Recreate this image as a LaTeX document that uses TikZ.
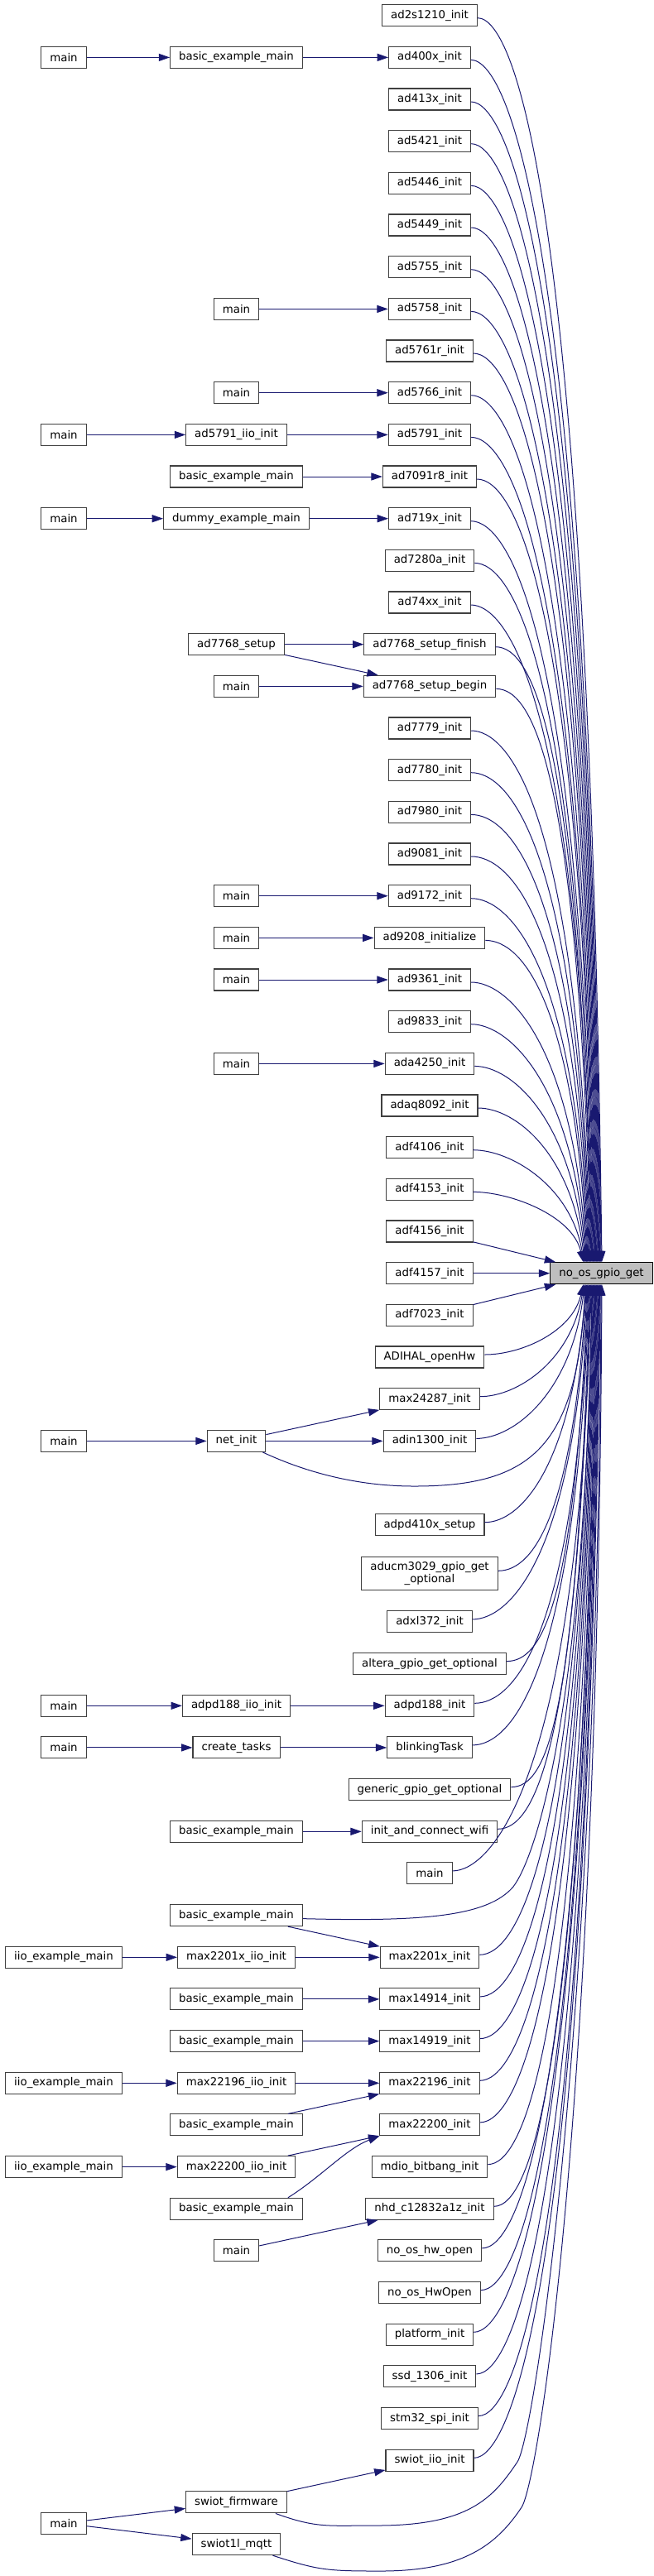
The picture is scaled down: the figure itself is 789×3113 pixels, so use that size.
\documentclass[tikz,border=0pt]{standalone}
\usepackage{fontspec}
\setmainfont{DejaVu Sans}
\usetikzlibrary{arrows.meta,calc}
\definecolor{edgeblue}{HTML}{191970}
\definecolor{boxborder}{HTML}{404040}
\definecolor{hilite}{HTML}{BFBFBF}
\tikzset{
 box/.style={draw=boxborder, line width=0.8pt, fill=white, font=\fontsize{10pt}{11.25pt}\selectfont, minimum height=19.5pt, inner xsep=7.9pt, inner ysep=2pt},
 edge/.style={draw=edgeblue, line width=0.75pt, -{Triangle[length=10pt,width=6.8pt]}},
}
\newcommand\upE[3]{%
  \pgfmathsetmacro\myDy{1525-#2}%
  \pgfmathsetmacro\myD{(0.85-0.25*max(0,1-\myDy/500))*\myDy}%
  \pgfmathsetmacro\myC{min(0.15*\myDy,16)}%
  \pgfmathsetmacro\myO{0.5-0.8*#3}%
  \draw[edge] ($(#1.east)+(0,3)$) .. controls +(45,0) and +(-\myC,-\myD) .. ($(g.north)+(\myO,0)$);}
\newcommand\downE[3]{%
  \pgfmathsetmacro\myDy{#2-1552}%
  \pgfmathsetmacro\myD{(0.85-0.25*max(0,1-\myDy/500))*\myDy}%
  \pgfmathsetmacro\myC{min(0.15*\myDy,16)}%
  \pgfmathsetmacro\myO{0.5-0.8*#3}%
  \draw[edge] ($(#1.east)+(0,-3)$) .. controls +(45,0) and +(-\myC,\myD) .. ($(g.south)+(\myO,0)$);}
\begin{document}
\begin{tikzpicture}[x=0.75pt,y=-0.75pt]
\useasboundingbox (0,0) rectangle (789,3113);
% target
\node[box, fill=hilite, draw=black] (g) at (726.5,1538.7) {no\_os\_gpio\_get};
% column 3
\node[box] (r0) at (519,18.7) {ad2s1210\_init};
\node[box] (r1) at (519,69.4) {ad400x\_init};
\node[box] (r2) at (519,120.0) {ad413x\_init};
\node[box] (r3) at (519,170.7) {ad5421\_init};
\node[box] (r4) at (519,221.4) {ad5446\_init};
\node[box] (r5) at (519,272.0) {ad5449\_init};
\node[box] (r6) at (519,322.7) {ad5755\_init};
\node[box] (r7) at (519,373.4) {ad5758\_init};
\node[box] (r8) at (519,424.0) {ad5761r\_init};
\node[box] (r9) at (519,474.7) {ad5766\_init};
\node[box] (r10) at (519,525.4) {ad5791\_init};
\node[box] (r11) at (519,576.0) {ad7091r8\_init};
\node[box] (r12) at (519,626.7) {ad719x\_init};
\node[box] (r13) at (519,677.4) {ad7280a\_init};
\node[box] (r14) at (519,728.0) {ad74xx\_init};
\node[box] (r15) at (519,778.7) {ad7768\_setup\_finish};
\node[box] (r16) at (519,829.4) {ad7768\_setup\_begin};
\node[box] (r17) at (519,880.0) {ad7779\_init};
\node[box] (r18) at (519,930.7) {ad7780\_init};
\node[box] (r19) at (519,981.4) {ad7980\_init};
\node[box] (r20) at (519,1032.0) {ad9081\_init};
\node[box] (r21) at (519,1082.7) {ad9172\_init};
\node[box] (r22) at (519,1133.4) {ad9208\_initialize};
\node[box] (r23) at (519,1184.0) {ad9361\_init};
\node[box] (r24) at (519,1234.7) {ad9833\_init};
\node[box] (r25) at (519,1285.4) {ada4250\_init};
\node[box] (r26) at (519,1336.0) {adaq8092\_init};
\node[box] (r27) at (519,1386.7) {adf4106\_init};
\node[box] (r28) at (519,1437.4) {adf4153\_init};
\node[box] (r29) at (519,1488.0) {adf4156\_init};
\node[box] (r30) at (519,1538.7) {adf4157\_init};
\node[box] (r31) at (519,1589.4) {adf7023\_init};
\node[box] (r32) at (519,1640.0) {ADIHAL\_openHw};
\node[box] (r33) at (519,1690.7) {max24287\_init};
\node[box] (r34) at (519,1741.4) {adin1300\_init};
\node[box] (r36) at (519,1842.7) {adpd410x\_setup};
\node[box, align=center, minimum height=30pt] (r37) at (519,1901.3) {aducm3029\_gpio\_get\\\_optional};
\node[box] (r38) at (519,1959.9) {adxl372\_init};
\node[box] (r39) at (519,2010.6) {altera\_gpio\_get\_optional};
\node[box] (r40) at (519,2061.3) {adpd188\_init};
\node[box] (r41) at (519,2111.9) {blinkingTask};
\node[box] (r42) at (519,2162.6) {generic\_gpio\_get\_optional};
\node[box] (r43) at (519,2213.3) {init\_and\_connect\_wifi};
\node[box] (r44) at (519,2263.9) {main};
\node[box] (r46) at (519,2365.3) {max2201x\_init};
\node[box] (r47) at (519,2415.9) {max14914\_init};
\node[box] (r48) at (519,2466.6) {max14919\_init};
\node[box] (r49) at (519,2517.3) {max22196\_init};
\node[box] (r50) at (519,2567.9) {max22200\_init};
\node[box] (r51) at (519,2618.6) {mdio\_bitbang\_init};
\node[box] (r52) at (519,2669.3) {nhd\_c12832a1z\_init};
\node[box] (r53) at (519,2719.9) {no\_os\_hw\_open};
\node[box] (r54) at (519,2770.6) {no\_os\_HwOpen};
\node[box] (r55) at (519,2821.3) {platform\_init};
\node[box] (r56) at (519,2871.9) {ssd\_1306\_init};
\node[box] (r57) at (519,2922.6) {stm32\_spi\_init};
\node[box] (r58) at (519,2973.3) {swiot\_iio\_init};
% column 2
\node[box] (b1) at (285.5,69.4) {basic\_example\_main};
\node[box] (m7) at (285.5,373.4) {main};
\node[box] (m9) at (285.5,474.7) {main};
\node[box] (b10) at (285.5,525.4) {ad5791\_iio\_init};
\node[box] (b11) at (285.5,576.0) {basic\_example\_main};
\node[box] (b12) at (285.5,626.7) {dummy\_example\_main};
\node[box] (b15) at (285.5,778.7) {ad7768\_setup};
\node[box] (m16) at (285.5,829.4) {main};
\node[box] (m21) at (285.5,1082.7) {main};
\node[box] (m22) at (285.5,1133.4) {main};
\node[box] (m23) at (285.5,1184.0) {main};
\node[box] (m25) at (285.5,1285.4) {main};
\node[box] (b34) at (285.5,1741.4) {net\_init};
\node[box] (b40) at (285.5,2061.3) {adpd188\_iio\_init};
\node[box] (b41) at (285.5,2111.9) {create\_tasks};
\node[box] (b43) at (285.5,2213.3) {basic\_example\_main};
\node[box] (b45) at (285.5,2314.6) {basic\_example\_main};
\node[box] (b46) at (285.5,2365.3) {max2201x\_iio\_init};
\node[box] (b47) at (285.5,2415.9) {basic\_example\_main};
\node[box] (b48) at (285.5,2466.6) {basic\_example\_main};
\node[box] (b49) at (285.5,2517.3) {max22196\_iio\_init};
\node[box] (b50) at (285.5,2567.9) {basic\_example\_main};
\node[box] (b51) at (285.5,2618.6) {max22200\_iio\_init};
\node[box] (b52) at (285.5,2669.3) {basic\_example\_main};
\node[box] (m53) at (285.5,2719.9) {main};
\node[box] (b59) at (285.5,3023.9) {swiot\_firmware};
\node[box] (b60) at (285.5,3074.6) {swiot1l\_mqtt};
% column 1
\node[box] (c1) at (77,69.4) {main};
\node[box] (c10) at (77,525.4) {main};
\node[box] (c12) at (77,626.7) {main};
\node[box] (c34) at (77,1741.4) {main};
\node[box] (c40) at (77,2061.3) {main};
\node[box] (c41) at (77,2111.9) {main};
\node[box] (c46) at (77,2365.3) {iio\_example\_main};
\node[box] (c49) at (77,2517.3) {iio\_example\_main};
\node[box] (c51) at (77,2618.6) {iio\_example\_main};
\node[box] (c59) at (77,3049.3) {main};
% left edges
\draw[edge] (c1) -- (b1);
\draw[edge] (b1) -- (r1);
\draw[edge] (m7) -- (r7);
\draw[edge] (m9) -- (r9);
\draw[edge] (c10) -- (b10);
\draw[edge] (b10) -- (r10);
\draw[edge] (b11) -- (r11);
\draw[edge] (c12) -- (b12);
\draw[edge] (b12) -- (r12);
\draw[edge] (b15) -- (r15);
\draw[edge] (b15) -- (r16);
\draw[edge] (m16) -- (r16);
\draw[edge] (m21) -- (r21);
\draw[edge] (m22) -- (r22);
\draw[edge] (m23) -- (r23);
\draw[edge] (m25) -- (r25);
\draw[edge] (c34) -- (b34);
\draw[edge] (b34) -- (r33);
\draw[edge] (b34) -- (r34);
\draw[edge] (c40) -- (b40);
\draw[edge] (b40) -- (r40);
\draw[edge] (c41) -- (b41);
\draw[edge] (b41) -- (r41);
\draw[edge] (b43) -- (r43);
\draw[edge] (b45) -- (r46);
\draw[edge] (c46) -- (b46);
\draw[edge] (b46) -- (r46);
\draw[edge] (b47) -- (r47);
\draw[edge] (b48) -- (r48);
\draw[edge] (c49) -- (b49);
\draw[edge] (b49) -- (r49);
\draw[edge] (b50) -- (r49);
\draw[edge] (c51) -- (b51);
\draw[edge] (b51) -- (r50);
\draw[edge] ($(b52.north east)+(-18,0)$) .. controls +(40,-25) and +(-40,15) .. (r50.south west);
\draw[edge] (m53) -- (r52);
\draw[edge] (c59) -- (b59);
\draw[edge] (c59) -- (b60);
\draw[edge] (b59) -- (r58);
% edges into no_os_gpio_get from above
\upE{r0}{18.7}{0}
\upE{r1}{69.4}{1}
\upE{r2}{120.0}{2}
\upE{r3}{170.7}{3}
\upE{r4}{221.4}{4}
\upE{r5}{272.0}{5}
\upE{r6}{322.7}{6}
\upE{r7}{373.4}{7}
\upE{r8}{424.0}{8}
\upE{r9}{474.7}{9}
\upE{r10}{525.4}{10}
\upE{r11}{576.0}{11}
\upE{r12}{626.7}{12}
\upE{r13}{677.4}{13}
\upE{r14}{728.0}{14}
\upE{r15}{778.7}{15}
\upE{r16}{829.4}{16}
\upE{r17}{880.0}{17}
\upE{r18}{930.7}{18}
\upE{r19}{981.4}{19}
\upE{r20}{1032.0}{20}
\upE{r21}{1082.7}{21}
\upE{r22}{1133.4}{22}
\upE{r23}{1184.0}{23}
\upE{r24}{1234.7}{24}
\upE{r25}{1285.4}{25}
\upE{r26}{1336.0}{26}
\upE{r27}{1386.7}{27}
\upE{r28}{1437.4}{28}
\draw[edge] (r29) -- (g);
\draw[edge] (r30) -- (g);
\draw[edge] (r31) -- (g);
% edges into no_os_gpio_get from below
\downE{r32}{1640.0}{28}
\downE{r33}{1690.7}{27}
\downE{r34}{1741.4}{26}
\draw[edge] ($(b34.south east)+(-4,0)$) .. controls +(60,28) and +(-60,0) .. (500,1796) .. controls +(140,0) and +(-10,198) .. ($(g.south)+(-19.5,0)$);
\downE{r36}{1842.7}{24}
\downE{r37}{1901.3}{23}
\downE{r38}{1959.9}{22}
\downE{r39}{2010.6}{21}
\downE{r40}{2061.3}{20}
\downE{r41}{2111.9}{19}
\downE{r42}{2162.6}{18}
\downE{r43}{2213.3}{17}
\downE{r44}{2263.9}{16}
\draw[edge] ($(b45.east)+(0,4)$) .. controls +(150,4) and +(-30,35) .. (620,2280) .. controls +(30,-40) and +(-8,500) .. ($(g.south)+(-11.5,0)$);
\downE{r46}{2365.3}{14}
\downE{r47}{2415.9}{13}
\downE{r48}{2466.6}{12}
\downE{r49}{2517.3}{11}
\downE{r50}{2567.9}{10}
\downE{r51}{2618.6}{9}
\downE{r52}{2669.3}{8}
\downE{r53}{2719.9}{7}
\downE{r54}{2770.6}{6}
\downE{r55}{2821.3}{5}
\downE{r56}{2871.9}{4}
\downE{r57}{2922.6}{3}
\downE{r58}{2973.3}{2}
\draw[edge] ($(b59.south east)+(-14,0)$) .. controls +(50,18) and +(-60,0) .. (455,3052) .. controls +(110,0) and +(-30,45) .. (625,2975) .. controls +(20,-30) and +(-5,900) .. ($(g.south)+(-0.3,0)$);
\draw[edge] ($(b60.south east)+(-10,0)$) .. controls +(55,18) and +(-65,0) .. (460,3107) .. controls +(100,0) and +(-30,45) .. (630,3030) .. controls +(20,-30) and +(-5,1000) .. ($(g.south)+(0.5,0)$);
\end{tikzpicture}
\end{document}
